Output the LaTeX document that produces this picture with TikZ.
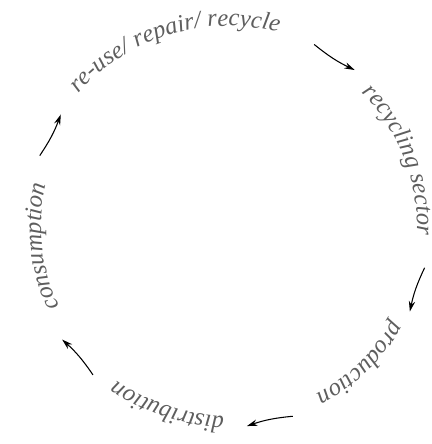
\documentclass[tikz,border=0pt]{standalone}
\usepackage{fontspec}
\usepackage{xcolor}
\usepackage{tikz}
\usetikzlibrary{arrows.meta}
\newfontfamily\labelserif{Liberation Serif}
\definecolor{labelgray}{HTML}{5E5E5E}
\newcommand{\labelfont}{\labelserif\fontsize{14}{16}\selectfont\itshape}
% angle of every letter: #1 name, #2 middle angle, #3 baseline radius (cm), #4 whole text, #5 its letters
\newcommand{\measurelabel}[5]{%
    \setbox0=\hbox{\labelfont #4}\edef\arcw{\the\wd0}%
    \pgfmathsetmacro{\arcstart}{-\arcw/2}%
    \xdef\arcpos{\arcstart}%
    \foreach \ch [count=\k] in {#5} {%
        \setbox0=\hbox{\labelfont\ch}\edef\chw{\the\wd0}%
        \pgfmathsetmacro{\chmid}{\arcpos+\chw/2}%
        \pgfmathsetmacro{\chang}{#2-deg(\chmid/(#3*28.45274))}%
        \expandafter\xdef\csname #1ang\k\endcsname{\chang}%
        \pgfmathsetmacro{\chnext}{\arcpos+\chw}%
        \xdef\arcpos{\chnext}%
    }}
% set the letters: #1 name, #2 radius (cm), #3 letters
\newcommand{\arclabel}[3]{%
    \foreach \ch [count=\k] in {#3} {
        \edef\chang{\csname #1ang\k\endcsname}
        \node[labeltext, rotate=\chang-90] (#1-\k) at (\chang:#2) {\ch};
    }}

\begin{document}
\measurelabel{reuse}{107.3}{4.0}{re-use/ repair/ recycle}{r,e,-,u,s,e,/,~,r,e,p,a,i,r,/,~,r,e,c,y,c,l,e}%
\measurelabel{sector}{21.3}{3.78}{recycling sector}{r,e,c,y,c,l,i,n,g,~,s,e,c,t,o,r}%
\measurelabel{prod}{-46}{3.8}{production}{p,r,o,d,u,c,t,i,o,n}%
\measurelabel{distr}{-108.5}{3.8}{distribution}{d,i,s,t,r,i,b,u,t,i,o,n}%
\measurelabel{cons}{186.3}{3.74}{consumption}{c,o,n,s,u,m,p,t,i,o,n}%
\begin{tikzpicture}[
    labeltext/.style={anchor=base, inner sep=0pt, outer sep=0pt, font=\labelfont, text=labelgray},
    cyclearrow/.style={-{Stealth[length=6pt, width=3.6pt]}, line width=0.6pt, bend right=6.8}]
    \useasboundingbox (-4.56,-4.36) rectangle (4.08,4.52);
    % labels around the loop, set letter by letter
    \arclabel{reuse}{4.0}{r,e,-,u,s,e,/,~,r,e,p,a,i,r,/,~,r,e,c,y,c,l,e}
    \arclabel{sector}{3.78}{r,e,c,y,c,l,i,n,g,~,s,e,c,t,o,r}
    \arclabel{prod}{3.8}{p,r,o,d,u,c,t,i,o,n}
    \arclabel{distr}{3.8}{d,i,s,t,r,i,b,u,t,i,o,n}
    \arclabel{cons}{3.74}{c,o,n,s,u,m,p,t,i,o,n}
    % arrows between them, clockwise
    \foreach \s/\e [count=\i] in {64.6/50.9, -12/-25.2, -71.2/-84.6, -132.2/-145.6, 159.5/146.3} {
        \coordinate (s\i) at (\s:4.02);
        \coordinate (e\i) at (\e:4.02);
        \draw[cyclearrow] (s\i) to (e\i);
    }
\end{tikzpicture}
\end{document}
